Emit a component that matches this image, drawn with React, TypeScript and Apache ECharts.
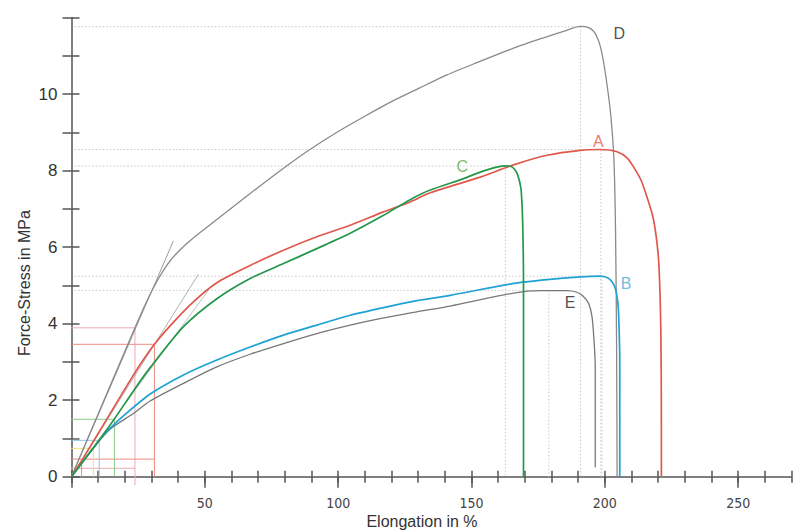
import React, { useEffect, useRef } from "react";
import * as echarts from "echarts";

// ---- axis tick labels ----
const xTickLabels = [50, 100, 150, 200, 250];
const xMajorTicks = [0, 50, 100, 150, 200, 250];
const yTickLabels = [0, 2, 4, 6, 8, 10];

// ---- curves (elongation %, stress MPa) ----
const curveA = [[0,0],[3.8,0.42],[10,1.13],[23.8,2.72],[31.1,3.46],[38,4.02],[45.7,4.57],[54.5,5.07],[67,5.52],[79.5,5.92],[92,6.27],[104.5,6.57],[117,6.92],[127,7.18],[134.5,7.42],[153.3,7.83],[165.8,8.15],[178.3,8.4],[190.8,8.53],[198.3,8.55],[204.6,8.49],[208.5,8.32],[210.8,8.09],[213.5,7.76],[215.8,7.31],[218,6.8],[219.4,6.2],[220.3,5.5],[221,3.83],[221.2,1.5],[221.2,0]];
const curveB = [[0,0],[10.4,0.95],[13.8,1.22],[20,1.62],[29.5,2.16],[42,2.66],[54.5,3.05],[67,3.39],[79.5,3.7],[92,3.96],[104.5,4.22],[117,4.42],[129.5,4.6],[142,4.74],[165.8,5.05],[178.3,5.15],[190.8,5.22],[198.3,5.24],[201,5.2],[202.6,5.1],[203.9,4.93],[204.8,4.6],[205.2,4.2],[205.6,2.96],[205.6,0]];
const curveC = [[0,0],[13.8,1.28],[23.8,2.3],[29.5,2.85],[42,3.92],[54.5,4.65],[67,5.18],[79.5,5.57],[92,5.96],[104.5,6.36],[117,6.83],[127,7.24],[134.5,7.49],[147,7.79],[153.3,7.96],[159.5,8.09],[163.3,8.12],[165.3,8.09],[166.8,7.97],[167.7,7.8],[168.6,7.5],[169.2,6.6],[169.5,5],[169.5,0]];
const curveD = [[0,0],[10,1.64],[23.8,3.89],[28,4.55],[32,5.1],[36,5.55],[40,5.88],[45,6.2],[54.5,6.72],[67,7.4],[79.5,8.06],[88.3,8.5],[100,9.02],[110,9.42],[120,9.8],[130,10.14],[140.8,10.5],[152,10.82],[165.8,11.2],[177,11.47],[184.5,11.64],[190.8,11.77],[193.5,11.75],[195.8,11.64],[197.5,11.42],[198.8,11.1],[200.5,10.4],[202.3,9.4],[203.4,8.3],[204.0,6.5],[204.4,3.5],[204.6,0]];
const curveE = [[0,0],[13.8,1.2],[23.2,1.65],[29.5,1.98],[42,2.44],[54.5,2.87],[67,3.2],[79.5,3.48],[92,3.74],[104.5,3.96],[117,4.15],[129.5,4.31],[142,4.46],[165.8,4.8],[175.8,4.86],[185.8,4.86],[189.5,4.82],[191.8,4.72],[193.9,4.53],[195.2,4.18],[196.0,3.5],[196.4,2.87],[196.4,0.25]];

// ---- tangent (modulus) lines ----
const tangentD = [[0,0],[38.2,6.16]];
const tangentA = [[0,0],[47.6,5.29]];
const tangentC = [[0,0],[51.3,4.87]];

// ---- construction lines near origin ----
const pinkSegs = [[[-2.5,3.89],[23.8,3.89]],[[23.8,3.89],[23.8,-0.22]],[[-4.7,0.22],[23.8,0.22]]];
const redSegs = [[[0,3.46],[31.1,3.46]],[[31.1,3.46],[31.1,0]],[[0,0.46],[31.1,0.46]],[[3.8,0.46],[3.8,0]]];
const greenSegs = [[[-1,1.5],[16.1,1.5]],[[16.1,1.5],[16.1,0]]];
const blueSegs = [[[0,0.95],[10.4,0.95]],[[10.4,0.95],[10.4,0]]];
const yellowSegs = [[[-2,0.74],[8.2,0.74]],[[8.2,0.74],[8.2,0]]];

// ---- peak guide lines (x of vertical, y of horizontal) ----
const peakNames = ["D", "A", "C", "B", "E"];
const peakX = [190.9, 198.5, 162.7, 198.9, 179.0];
const peakY = [11.76, 8.55, 8.12, 5.24, 4.87];

// ---- curve labels ----
const labelNames = ["D", "A", "C", "B", "E"];
const labelX = [205.4, 197.6, 146.5, 208.0, 187.0];
const labelY = [11.58, 8.76, 8.11, 5.06, 4.54];
const labelColors = ["#222222", "#e0574c", "#5aa842", "#4aa8d4", "#222222"];

const FONT = "'Liberation Sans', Arial, Helvetica, sans-serif";

export default function App() {
  const ref = useRef<HTMLDivElement>(null);
  useEffect(() => {
    if (!ref.current) return;
    const chart = echarts.init(ref.current, undefined, { renderer: "svg" });

    const seg = (data: number[][], color: string, width: number, type: any = "solid") => ({
      type: "line",
      data,
      xAxisIndex: 0,
      yAxisIndex: 0,
      symbol: "none",
      silent: true,
      clip: false,
      lineStyle: { color, width, type },
      z: 1,
    });

    const series: any[] = [];
    const addSegs = (segs: number[][][], color: string) => segs.forEach((s) => series.push(seg(s, color, 1)));
    addSegs(pinkSegs, "#eeaab2");
    addSegs(redSegs, "#ec8a84");
    addSegs(greenSegs, "#8ccc8c");
    addSegs(blueSegs, "#8cc8e8");
    addSegs(yellowSegs, "#f2e27a");

    peakNames.forEach((_, i) => {
      series.push(seg([[1.2, peakY[i]], [peakX[i], peakY[i]]], "#c8c8c8", 1, [1.5, 2]));
      series.push(seg([[peakX[i], peakY[i]], [peakX[i], 0]], "#c8c8c8", 1, [1.5, 2]));
    });

    series.push(seg(tangentD, "#9a9a9a", 1));
    series.push(seg(tangentA, "#b0b0b0", 1));
    series.push(seg(tangentC, "#c0c0c0", 1));

    const curves = [
      { d: curveD, c: "#8a8a8a", w: 1.3 },
      { d: curveE, c: "#777777", w: 1.3 },
      { d: curveB, c: "#1ea2d4", w: 1.7 },
      { d: curveA, c: "#e0574c", w: 1.7 },
      { d: curveC, c: "#23974a", w: 1.7 },
    ];
    curves.forEach((cv) =>
      series.push({
        type: "line",
        data: cv.d,
        symbol: "none",
        smooth: 0.25,
        silent: true,
        lineStyle: { color: cv.c, width: cv.w },
        z: 3,
      })
    );

    series.push({
      type: "scatter",
      symbolSize: 0,
      silent: true,
      z: 5,
      data: labelNames.map((n, i) => ({
        name: n,
        value: [labelX[i], labelY[i]],
        label: { color: labelColors[i] },
      })),
      label: {
        show: true,
        position: "inside",
        formatter: "{b}",
        fontSize: 16,
        fontFamily: FONT,
      },
    });

    const axisLineStyle = { color: "#555555", width: 1.5 };
    const xBase = { type: "value", min: 0, max: 270, interval: 10, position: "bottom", splitLine: { show: false } };
    const yBase = { type: "value", min: 0, max: 12, interval: 1, position: "left", splitLine: { show: false } };

    chart.setOption({
      animation: false,
      backgroundColor: "#ffffff",
      grid: { left: 71.5, right: 2.5, top: 17.5, bottom: 55.3, containLabel: false },
      xAxis: [
        {
          ...xBase,
          axisLine: { show: true, lineStyle: axisLineStyle },
          axisTick: { show: true, inside: false, length: 6, lineStyle: axisLineStyle },
          axisLabel: {
            show: true,
            customValues: xTickLabels,
            margin: 19,
            fontSize: 14,
            color: "#444444",
            fontFamily: "'Liberation Sans Narrow', 'DejaVu Sans Condensed', " + FONT,
          },
        },
        {
          ...xBase,
          axisLine: { show: false },
          axisTick: { show: true, inside: false, length: 11, customValues: xMajorTicks, lineStyle: axisLineStyle },
          axisLabel: { show: false },
        },
        {
          ...xBase,
          axisLine: { show: false },
          axisTick: { show: true, inside: true, length: 6, lineStyle: axisLineStyle },
          axisLabel: { show: false },
        },
      ],
      yAxis: [
        {
          ...yBase,
          axisLine: { show: true, lineStyle: axisLineStyle },
          axisTick: { show: true, inside: false, length: 9, lineStyle: axisLineStyle },
          axisLabel: {
            show: true,
            customValues: yTickLabels,
            margin: 14,
            fontSize: 17,
            color: "#333333",
            fontFamily: FONT,
          },
        },
        {
          ...yBase,
          axisLine: { show: false },
          axisTick: { show: true, inside: true, length: 8, lineStyle: axisLineStyle },
          axisLabel: { show: false },
        },
      ],
      graphic: [
        {
          type: "text",
          x: 422,
          y: 521,
          style: { text: "Elongation in %", font: "16px " + FONT, fill: "#333333", align: "center", verticalAlign: "middle" },
        },
        {
          type: "text",
          x: 24,
          y: 283,
          rotation: Math.PI / 2,
          style: { text: "Force-Stress in MPa", font: "16px " + FONT, fill: "#333333", align: "center", verticalAlign: "middle" },
        },
      ],
      series,
    });

    return () => chart.dispose();
  }, []);

  return (
    <div
      ref={ref}
      style={{ position: "fixed", left: 0, top: 0, width: 794, height: 532, background: "#fff" }}
    />
  );
}
